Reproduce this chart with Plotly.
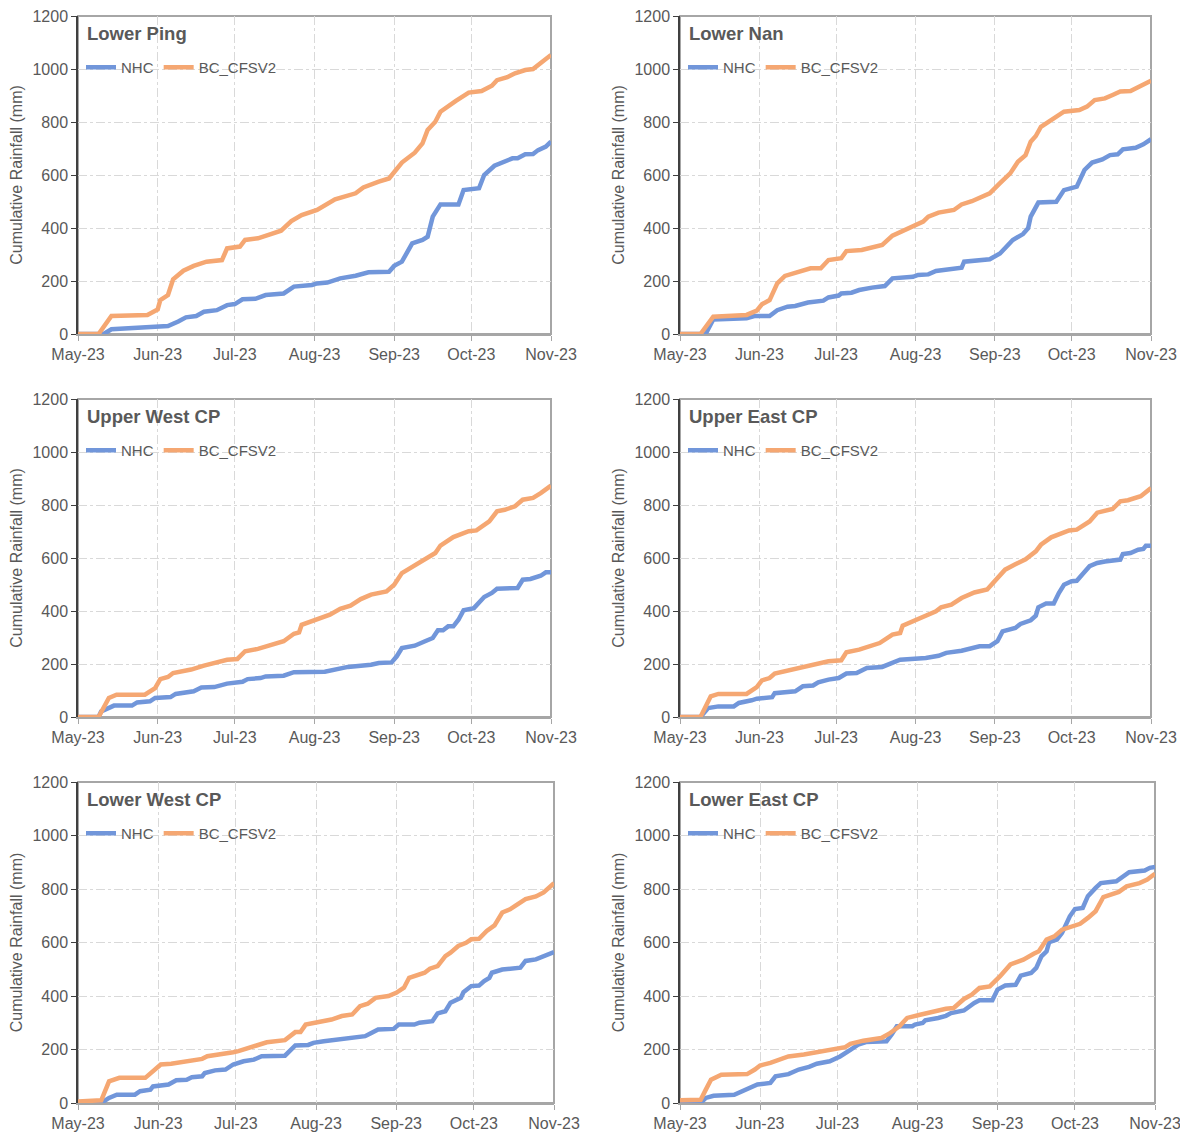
import pandas as pd
import plotly.graph_objects as go

START = "2023-05-01"
regions = ["Lower Ping", "Lower Nan", "Upper West CP", "Upper East CP", "Lower West CP", "Lower East CP"]
series_names = ["NHC", "BC_CFSV2"]
month_ticks = ["2023-05-01", "2023-06-01", "2023-07-01", "2023-08-01", "2023-09-01", "2023-10-01", "2023-11-01"]
month_labels = ["May-23", "Jun-23", "Jul-23", "Aug-23", "Sep-23", "Oct-23", "Nov-23"]
y_ticks = [0, 200, 400, 600, 800, 1000, 1200]

# days since 1 May 2023, cumulative rainfall (mm)
lp_nhc_d = [0, 10, 13, 35, 39, 42, 46, 49, 54, 58, 61, 64, 69, 73, 80, 84, 91, 93, 97, 102, 108, 111, 113, 121, 123, 126, 128, 130, 134, 136, 138, 141, 148, 150, 156, 158, 162, 165, 169, 171, 174, 177, 179, 182, 184]
lp_nhc_v = [0, 0, 18, 30, 47, 63, 68, 84, 90, 109, 113, 131, 133, 147, 153, 179, 185, 191, 194, 210, 220, 226, 233, 235, 257, 273, 311, 342, 355, 367, 443, 489, 489, 543, 550, 600, 635, 648, 663, 663, 678, 679, 694, 707, 726]
lp_bc_d = [0, 8, 13, 27, 31, 32, 35, 37, 41, 45, 50, 56, 58, 63, 65, 70, 75, 79, 83, 87, 93, 96, 100, 108, 111, 117, 121, 126, 131, 134, 136, 139, 141, 147, 152, 157, 161, 163, 167, 170, 174, 177, 180, 184]
lp_bc_v = [0, 0, 68, 72, 93, 128, 147, 206, 239, 257, 273, 279, 323, 330, 355, 361, 377, 390, 426, 449, 468, 487, 508, 531, 553, 575, 587, 647, 684, 719, 770, 801, 839, 880, 911, 917, 937, 958, 969, 984, 996, 1000, 1021, 1053]

ln_nhc_d = [0, 10, 13, 26, 29, 35, 38, 42, 45, 50, 56, 58, 62, 63, 67, 70, 75, 80, 83, 91, 93, 97, 100, 105, 110, 111, 117, 121, 125, 127, 130, 134, 136, 137, 140, 147, 150, 155, 158, 161, 165, 168, 171, 173, 178, 181, 184]
ln_nhc_v = [0, 0, 55, 59, 68, 68, 90, 103, 106, 119, 126, 138, 145, 153, 156, 166, 175, 181, 210, 216, 223, 225, 238, 242, 250, 273, 277, 282, 304, 327, 355, 377, 399, 443, 496, 499, 543, 556, 619, 647, 659, 675, 678, 697, 703, 716, 735]
ln_bc_d = [0, 8, 13, 26, 30, 32, 35, 38, 41, 45, 51, 55, 58, 63, 65, 71, 75, 79, 83, 87, 92, 95, 97, 101, 107, 110, 114, 118, 121, 125, 129, 132, 135, 137, 139, 141, 145, 150, 156, 159, 162, 166, 169, 172, 176, 180, 184]
ln_bc_v = [0, 0, 65, 72, 88, 112, 128, 191, 219, 229, 248, 248, 279, 286, 313, 317, 327, 336, 371, 390, 411, 424, 443, 458, 468, 489, 501, 518, 531, 569, 606, 650, 675, 726, 747, 782, 808, 839, 845, 858, 883, 889, 902, 915, 917, 936, 956]

uw_nhc_d = [0, 8, 9, 14, 21, 23, 28, 30, 36, 38, 45, 48, 53, 58, 64, 66, 71, 73, 80, 84, 96, 101, 105, 114, 117, 122, 124, 126, 131, 135, 138, 140, 142, 144, 146, 148, 150, 154, 158, 161, 163, 171, 173, 176, 180, 182, 184]
uw_nhc_v = [0, 0, 21, 43, 43, 55, 59, 72, 75, 87, 97, 111, 113, 126, 133, 143, 147, 153, 156, 169, 171, 179, 189, 197, 204, 206, 229, 260, 269, 286, 298, 327, 327, 342, 342, 367, 403, 411, 453, 468, 484, 487, 518, 521, 533, 546, 546]
uw_bc_d = [0, 8, 12, 15, 26, 30, 32, 35, 37, 44, 49, 54, 58, 62, 65, 70, 74, 80, 84, 86, 87, 92, 95, 98, 102, 106, 110, 114, 120, 123, 126, 130, 134, 139, 141, 146, 152, 155, 160, 163, 166, 170, 173, 177, 180, 184]
uw_bc_v = [0, 0, 72, 84, 84, 109, 143, 151, 166, 179, 194, 204, 216, 219, 248, 257, 269, 286, 314, 319, 348, 364, 374, 386, 408, 420, 445, 462, 474, 499, 543, 566, 587, 619, 647, 679, 701, 704, 738, 776, 782, 795, 820, 827, 845, 873]

ue_nhc_d = [0, 8, 11, 15, 21, 23, 28, 30, 36, 37, 45, 48, 52, 54, 58, 62, 65, 69, 73, 79, 86, 92, 96, 101, 104, 110, 115, 117, 121, 123, 124, 126, 130, 131, 133, 137, 139, 140, 143, 146, 148, 150, 153, 155, 158, 160, 163, 166, 172, 173, 176, 179, 181, 182, 184]
ue_nhc_v = [0, 0, 34, 40, 40, 53, 63, 69, 75, 90, 97, 116, 119, 131, 141, 147, 164, 166, 185, 189, 216, 220, 223, 231, 242, 250, 260, 267, 267, 282, 286, 323, 336, 336, 351, 365, 382, 414, 428, 428, 468, 499, 512, 514, 547, 569, 581, 587, 594, 615, 619, 631, 634, 646, 646]
ue_bc_d = [0, 8, 12, 15, 26, 30, 32, 35, 37, 44, 49, 54, 58, 63, 65, 70, 73, 78, 83, 86, 87, 92, 96, 100, 102, 106, 110, 115, 120, 123, 127, 131, 135, 139, 141, 145, 152, 155, 160, 163, 169, 172, 175, 180, 184]
ue_bc_v = [0, 0, 78, 87, 87, 113, 138, 147, 164, 179, 191, 201, 210, 214, 244, 254, 264, 279, 311, 317, 345, 367, 382, 399, 414, 424, 449, 470, 481, 516, 556, 576, 595, 625, 650, 678, 704, 707, 738, 771, 785, 814, 818, 833, 864]

lw_nhc_d = [0, 9, 12, 15, 22, 24, 28, 29, 35, 38, 42, 44, 48, 49, 53, 57, 60, 64, 68, 71, 80, 84, 89, 91, 95, 100, 106, 111, 113, 116, 122, 124, 130, 132, 137, 139, 142, 144, 148, 149, 152, 155, 157, 159, 160, 164, 171, 173, 177, 180, 184]
lw_nhc_v = [0, 0, 19, 31, 31, 44, 50, 62, 69, 85, 87, 96, 100, 112, 122, 125, 144, 156, 162, 175, 177, 215, 217, 225, 231, 237, 243, 250, 260, 275, 277, 293, 293, 300, 306, 335, 343, 375, 393, 414, 437, 439, 456, 468, 487, 499, 506, 531, 537, 549, 564]
lw_bc_d = [0, 9, 12, 16, 26, 29, 32, 36, 39, 44, 48, 50, 55, 60, 62, 66, 69, 73, 80, 84, 86, 88, 93, 98, 102, 106, 109, 112, 115, 120, 123, 126, 128, 131, 134, 136, 139, 142, 144, 147, 150, 152, 155, 158, 161, 164, 167, 169, 173, 177, 180, 184]
lw_bc_v = [6, 10, 81, 94, 94, 119, 144, 147, 152, 160, 165, 175, 181, 190, 194, 208, 215, 227, 235, 265, 265, 293, 302, 312, 325, 331, 362, 371, 393, 400, 412, 431, 468, 477, 487, 502, 512, 549, 562, 587, 599, 612, 614, 643, 664, 712, 724, 737, 762, 772, 787, 822]

le_nhc_d = [0, 8, 10, 13, 21, 24, 27, 30, 35, 37, 42, 46, 50, 53, 58, 62, 66, 69, 72, 80, 82, 84, 90, 91, 94, 95, 100, 103, 105, 110, 114, 116, 121, 123, 126, 130, 132, 136, 138, 140, 142, 143, 146, 148, 151, 153, 156, 158, 161, 163, 169, 172, 174, 180, 182, 184]
le_nhc_v = [0, 0, 19, 27, 31, 44, 56, 69, 75, 100, 108, 125, 135, 147, 156, 174, 199, 218, 228, 231, 256, 287, 287, 293, 299, 309, 318, 326, 336, 346, 374, 384, 384, 424, 439, 442, 476, 486, 505, 548, 567, 601, 611, 636, 698, 725, 729, 773, 804, 822, 829, 850, 863, 869, 879, 882]
le_bc_d = [0, 8, 10, 12, 16, 26, 29, 31, 35, 39, 42, 48, 52, 58, 64, 66, 71, 78, 81, 85, 88, 93, 98, 103, 106, 110, 113, 116, 120, 124, 128, 133, 137, 139, 142, 145, 148, 153, 155, 158, 161, 164, 168, 170, 173, 178, 181, 184]
le_bc_v = [10, 12, 50, 87, 106, 108, 125, 140, 150, 164, 174, 181, 189, 199, 209, 221, 233, 243, 259, 287, 318, 330, 343, 352, 355, 389, 405, 430, 436, 474, 518, 536, 558, 567, 611, 623, 648, 665, 670, 692, 717, 770, 785, 789, 810, 822, 835, 857]

panel_data = [
    (lp_nhc_d, lp_nhc_v, lp_bc_d, lp_bc_v),
    (ln_nhc_d, ln_nhc_v, ln_bc_d, ln_bc_v),
    (uw_nhc_d, uw_nhc_v, uw_bc_d, uw_bc_v),
    (ue_nhc_d, ue_nhc_v, ue_bc_d, ue_bc_v),
    (lw_nhc_d, lw_nhc_v, lw_bc_d, lw_bc_v),
    (le_nhc_d, le_nhc_v, le_bc_d, le_bc_v),
]

OFF = 8  # page body margin added by the browser
W, H = 1188 - OFF, 1133 - OFF
colors = ["#7196DA", "#F5A772"]
text_col = "#595959"
grid_col = "#D9D9D9"
dark_axis = "#404040"
light_axis = "#A6A6A6"
font_fam = "Arial, Liberation Sans, sans-serif"

# pixel boxes (screen coords) for the six plot areas (left, right, top, bottom)
boxes = [
    (78, 551, 16, 334), (680, 1151, 16, 334),
    (78, 551, 399, 717), (680, 1151, 399, 717),
    (78, 554, 782, 1103), (680, 1155, 782, 1103),
]

def to_dates(days):
    return pd.Timestamp(START) + pd.to_timedelta(days, unit="D")

fig = go.Figure()
layout = dict(
    width=W, height=H, margin=dict(l=0, r=0, t=0, b=0, autoexpand=False),
    paper_bgcolor="white", plot_bgcolor="white",
    font=dict(family=font_fam, color=text_col, size=15),
    annotations=[], shapes=[],
)

for i, (name, data) in enumerate(zip(regions, panel_data)):
    k = "" if i == 0 else str(i + 1)
    L, R, T, B = [c - OFF for c in boxes[i]]
    leg = "legend" if i == 0 else f"legend{i + 1}"
    for j in range(2):
        d, v = data[2 * j], data[2 * j + 1]
        fig.add_trace(go.Scatter(
            x=to_dates(d), y=v, mode="lines", name=series_names[j],
            line=dict(color=colors[j], width=4.5),
            xaxis="x" + k, yaxis="y" + k, legend=leg, showlegend=True,
        ))
    layout["xaxis" + k] = dict(
        domain=[L / W, R / W], anchor="y" + k, automargin=False,
        range=[START, "2023-11-01"], type="date",
        tickvals=month_ticks, ticktext=month_labels,
        showgrid=True, gridcolor=grid_col, griddash="dashdot", gridwidth=1,
        showline=True, linecolor=light_axis, linewidth=1.5,
        ticks="outside", ticklen=5, tickcolor=light_axis,
        tickfont=dict(size=16, color=text_col), zeroline=False,
        ticklabeloverflow="allow",
    )
    layout["yaxis" + k] = dict(
        domain=[1 - B / H, 1 - T / H], anchor="x" + k, automargin=False,
        range=[0, 1200], tickvals=y_ticks,
        showgrid=True, gridcolor=grid_col, griddash="dashdot", gridwidth=1,
        showline=True, linecolor=dark_axis, linewidth=1.5,
        ticks="outside", ticklen=5, tickcolor=dark_axis,
        tickfont=dict(size=16, color=text_col), zeroline=False,
        ticklabeloverflow="allow",
        title=dict(text="Cumulative Rainfall (mm)", font=dict(size=16, color=text_col), standoff=6),
    )
    layout["shapes"].append(dict(
        type="rect", xref=f"x{k} domain", yref=f"y{k} domain",
        x0=0, x1=1, y0=0, y1=1, layer="below",
        line=dict(color=light_axis, width=2),
    ))
    layout[leg] = dict(
        x=(L + 3) / W, y=1 - (T + 35) / H, xanchor="left", yanchor="top",
        orientation="h", bgcolor="rgba(0,0,0,0)",
        font=dict(size=15, color=text_col), itemwidth=30, tracegroupgap=0,
    )
    layout["annotations"].append(dict(
        text=f"<b>{name}</b>", x=(L + 7) / W, y=1 - (T + 17) / H,
        xref="paper", yref="paper", xanchor="left", yanchor="middle",
        showarrow=False, font=dict(size=18.5, color=text_col),
    ))

fig.update_layout(**layout)
fig.write_html("out.html")
